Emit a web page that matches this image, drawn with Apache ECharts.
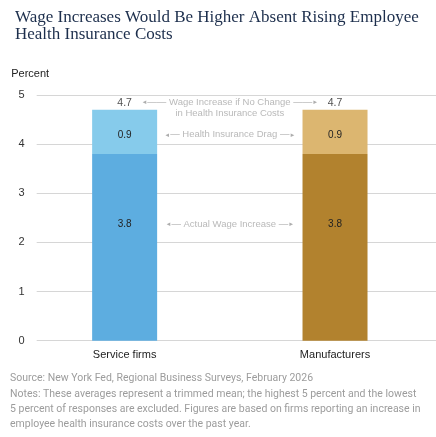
<!DOCTYPE html>
<html>
<head>
<meta charset="utf-8">
<script src="https://cdn.jsdelivr.net/npm/echarts@6/dist/echarts.min.js"></script>
<style>
html,body{margin:0;padding:0;background:#fff;}
#c{width:436px;height:437px;}
</style>
</head>
<body>
<div id="c"></div>
<script>
const categories = ['Service firms', 'Manufacturers'];
const actualWage = [3.8, 3.8];
const healthDrag = [0.9, 0.9];
const yTicks = [0, 1, 2, 3, 4, 5];
const darkColors = ['#5DADE0', '#B2822E'];
const lightColors = ['#86CBEB', '#DCB670'];
const annotationTexts = ['Wage Increase if No Change', 'in Health Insurance Costs', 'Health Insurance Drag', 'Actual Wage Increase'];
const titleText = 'Wage Increases Would Be Higher Absent Rising Employee\nHealth Insurance Costs';
const noteText = 'Source: New York Fed, Regional Business Surveys, February 2026\n' +
  'Notes: These averages represent a trimmed mean; the highest 5 percent and the lowest\n' +
  '5 percent of responses are excluded. Figures are based on firms reporting an increase in\n' +
  'employee health insurance costs over the past year.';

const SANS = "'Liberation Sans', Arial, sans-serif";
const xPos = categories.map((c, i) => i + 1);
const totals = actualWage.map((v, i) => +(v + healthDrag[i]).toFixed(1));
const midX = (xPos[0] + xPos[1]) / 2;

const rich = {
  t: { color: '#a8a8a8', fontSize: 9.5, fontFamily: SANS },
  ah: { color: '#999999', fontSize: 6, fontFamily: SANS },
  ln: { color: '#9e9e9e', fontSize: 9.5, fontFamily: SANS }
};
const arrowL = n => '{ah|◄}{ln|' + '—'.repeat(n) + '}';
const arrowR = n => '{ln|' + '—'.repeat(n) + '}{ah|►}';

const chart = echarts.init(document.getElementById('c'), null, { renderer: 'canvas' });
chart.setOption({
  animation: false,
  backgroundColor: '#ffffff',
  title: {
    text: titleText, left: 10, top: 4,
    textStyle: { fontFamily: "'Liberation Serif', serif", fontWeight: 'normal', fontSize: 17, lineHeight: 17, color: '#1c2e4c' }
  },
  graphic: [{
    type: 'text', x: 10, y: 370.7, scaleX: 0.913,
    style: { text: noteText, font: 'normal 11.5px Roboto, sans-serif', lineHeight: 15.3, fill: '#9c9c9c', verticalAlign: 'top' }
  }],
  grid: { left: 36.7, right: 0, top: 95, bottom: 96.3 },
  xAxis: {
    type: 'value', min: 0.582, max: 2.48,
    splitLine: { show: false }, axisLine: { show: false }, axisTick: { show: false },
    axisLabel: {
      customValues: xPos, margin: 9,
      formatter: v => categories[Math.round(v) - 1] || '',
      color: '#222', fontSize: 11, fontFamily: SANS
    }
  },
  yAxis: {
    type: 'value', min: yTicks[0], max: yTicks[yTicks.length - 1], interval: 1,
    name: 'Percent', nameLocation: 'end', nameGap: 16,
    nameTextStyle: { color: '#222', fontSize: 11, fontFamily: SANS, align: 'center', padding: [0, 13, 0, 0] },
    axisLine: { show: false }, axisTick: { show: false },
    axisLabel: { color: '#333', fontSize: 11, fontFamily: SANS, margin: 12 },
    splitLine: { lineStyle: { color: '#d6d6d6', width: 1 } }
  },
  series: [
    {
      type: 'bar', stack: 'w', barWidth: 65, encode: { x: 1, y: 0 },
      data: actualWage.map((v, i) => ({ value: [v, xPos[i]], itemStyle: { color: darkColors[i] } })),
      label: { show: true, position: 'inside', offset: [0, -23], color: '#222', fontSize: 10, fontFamily: SANS, formatter: p => p.value[0].toFixed(1) }
    },
    {
      type: 'bar', stack: 'w', barWidth: 65, encode: { x: 1, y: 0 },
      data: healthDrag.map((v, i) => ({ value: [v, xPos[i]], itemStyle: { color: lightColors[i] } })),
      label: { show: true, position: 'inside', offset: [0, 3], color: '#222', fontSize: 10, fontFamily: SANS, formatter: p => p.value[0].toFixed(1) }
    },
    {
      type: 'scatter', symbolSize: 1, itemStyle: { color: 'rgba(0,0,0,0)' }, silent: true,
      data: totals.map((v, i) => [xPos[i], v]),
      label: { show: true, position: 'top', distance: 1, color: '#222', fontSize: 10.5, fontFamily: SANS, formatter: p => p.value[1].toFixed(1) }
    },
    {
      type: 'scatter', symbolSize: 1, itemStyle: { color: 'rgba(0,0,0,0)' }, silent: true,
      data: [
        { value: [midX, totals[0]], label: { offset: [0, -1.5], formatter: arrowL(2) + '{t| ' + annotationTexts[0] + ' }' + arrowR(2) + '\n{t|' + annotationTexts[1] + '}' } },
        { value: [midX, actualWage[0] + healthDrag[0] / 2], label: { offset: [0, 3], formatter: arrowL(1) + '{t| ' + annotationTexts[2] + ' }' + arrowR(1) } },
        { value: [midX, actualWage[0] / 2], label: { offset: [0, -23], formatter: arrowL(1) + '{t| ' + annotationTexts[3] + ' }' + arrowR(1) } }
      ],
      label: { show: true, position: 'inside', lineHeight: 11, rich: rich }
    }
  ]
});
</script>
</body>
</html>
